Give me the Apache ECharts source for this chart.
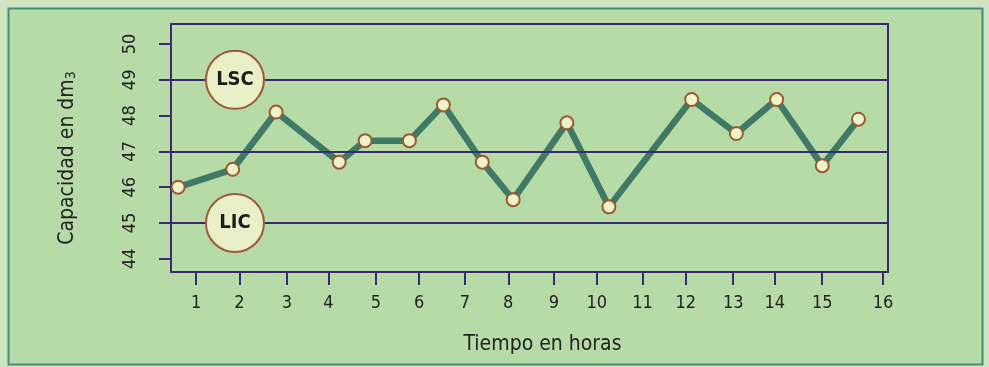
<!DOCTYPE html>
<html>
<head>
<meta charset="utf-8">
<script src="https://cdn.jsdelivr.net/npm/echarts@6/dist/echarts.min.js"></script>
<style>
  html, body { margin: 0; padding: 0; background: #cfe4c0; }
  #chart { width: 989px; height: 367px; }
</style>
</head>
<body>
<div id="chart"></div>
<script>
// Hour labels and where each hour mark sits on the time scale
const hourLabels = ['1', '2', '3', '4', '5', '6', '7', '8', '9', '10', '11', '12', '13', '14', '15', '16'];
const hourTickAt = [1, 1.97, 3.03, 3.96, 5.02, 5.99, 7.01, 7.98, 9.0, 9.96, 10.98, 11.95, 13.01, 13.94, 15.0, 16.36];

// Sampling times (hours) and measured capacity (dm3)
const sampleTime = [0.60, 1.82, 2.79, 4.20, 4.78, 5.77, 6.53, 7.40, 8.09, 9.29, 10.23, 12.08, 13.08, 13.98, 15.00, 15.81];
const capacity = [46.0, 46.5, 48.1, 46.7, 47.3, 47.3, 48.3, 46.7, 45.65, 47.8, 45.45, 48.45, 47.5, 48.45, 46.6, 47.9];

// Capacity axis ticks, control lines and limit badges
const capacityTicks = [44, 45, 46, 47, 48, 49, 50];
const controlLines = [45, 47, 49];
const limitNames = ['LSC', 'LIC'];
const limitValues = [49, 45];
const limitBadgeHour = 1.87;

const PURPLE = '#3b2a70';
const NARROW = "'Liberation Sans Narrow', 'DejaVu Sans Condensed', sans-serif";

// label for an hour mark, looked up by its position on the scale
function hourLabelAt(v) {
  let best = 0;
  for (let i = 1; i < hourTickAt.length; i++) {
    if (Math.abs(hourTickAt[i] - v) < Math.abs(hourTickAt[best] - v)) best = i;
  }
  return hourLabels[best];
}

const chart = echarts.init(document.getElementById('chart'), null, { renderer: 'canvas' });

const option = {
  backgroundColor: '#cfe4c0',
  animation: false,
  graphic: [{
    type: 'rect',
    z: -10,
    silent: true,
    shape: { x: 8.5, y: 8.5, width: 974, height: 356 },
    style: { fill: '#b6dba6', stroke: '#3f8f78', lineWidth: 2 }
  }],
  grid: {
    left: 171, right: 101, top: 24, bottom: 95,
    show: true,
    backgroundColor: 'transparent',
    borderColor: PURPLE,
    borderWidth: 2,
    outerBoundsMode: 'none'
  },
  xAxis: {
    type: 'value',
    min: 0.44,
    max: 16.47,
    name: 'Tiempo en horas',
    nameLocation: 'middle',
    nameGap: 62,
    nameTextStyle: { fontFamily: NARROW, fontSize: 21, color: '#222', padding: [0, 0, 0, 26] },
    axisLine: { show: true, lineStyle: { color: PURPLE, width: 2 } },
    axisTick: { show: true, inside: false, length: 13, customValues: hourTickAt, lineStyle: { color: PURPLE, width: 2 } },
    axisLabel: {
      show: true,
      customValues: hourTickAt,
      formatter: v => hourLabelAt(v),
      fontFamily: NARROW, fontSize: 18, color: '#222',
      margin: 22
    },
    splitLine: { show: false }
  },
  yAxis: {
    type: 'value',
    min: 43.63,
    max: 50.56,
    name: '{t|Capacidad en dm}{s|3}',
    nameLocation: 'middle',
    nameGap: 93,
    nameRotate: 90,
    nameTextStyle: {
      padding: [0, 20, 0, 0],
      rich: {
        t: { fontFamily: NARROW, fontSize: 21, color: '#222' },
        s: { fontFamily: NARROW, fontSize: 14, color: '#222', verticalAlign: 'bottom', padding: [6, 0, 0, 0] }
      }
    },
    axisLine: { show: true, lineStyle: { color: PURPLE, width: 2 } },
    axisTick: { show: true, inside: false, length: 12, customValues: capacityTicks, lineStyle: { color: PURPLE, width: 2 } },
    axisLabel: {
      customValues: capacityTicks,
      rotate: 90,
      fontFamily: NARROW, fontSize: 18, color: '#222',
      margin: 32
    },
    splitLine: { show: false }
  },
  series: [
    {
      // horizontal control lines
      type: 'line',
      data: [],
      z: 1,
      silent: true,
      markLine: {
        silent: true,
        symbol: ['none', 'none'],
        label: { show: false },
        lineStyle: { color: PURPLE, width: 2, type: 'solid' },
        data: controlLines.map(v => ({ yAxis: v }))
      }
    },
    {
      type: 'line',
      z: 3,
      data: sampleTime.map((t, i) => [t, capacity[i]]),
      lineStyle: { color: '#3e7a66', width: 6.5, cap: 'round', join: 'round' },
      symbol: 'circle',
      symbolSize: 13,
      showAllSymbol: true,
      itemStyle: { color: '#eef3c9', borderColor: '#9b5a33', borderWidth: 2 }
    },
    {
      // limit badges
      type: 'scatter',
      z: 5,
      data: limitValues.map((v, i) => ({ value: [limitBadgeHour, v], name: limitNames[i] })),
      symbol: 'circle',
      symbolSize: 58,
      itemStyle: { color: '#e9f0c7', borderColor: '#9b5a3a', borderWidth: 2, opacity: 1 },
      label: {
        show: true,
        position: 'inside',
        formatter: p => p.name,
        fontFamily: NARROW,
        fontWeight: 'bold',
        fontSize: 20,
        color: '#1c1c1c'
      }
    }
  ]
};

chart.setOption(option);
</script>
</body>
</html>
